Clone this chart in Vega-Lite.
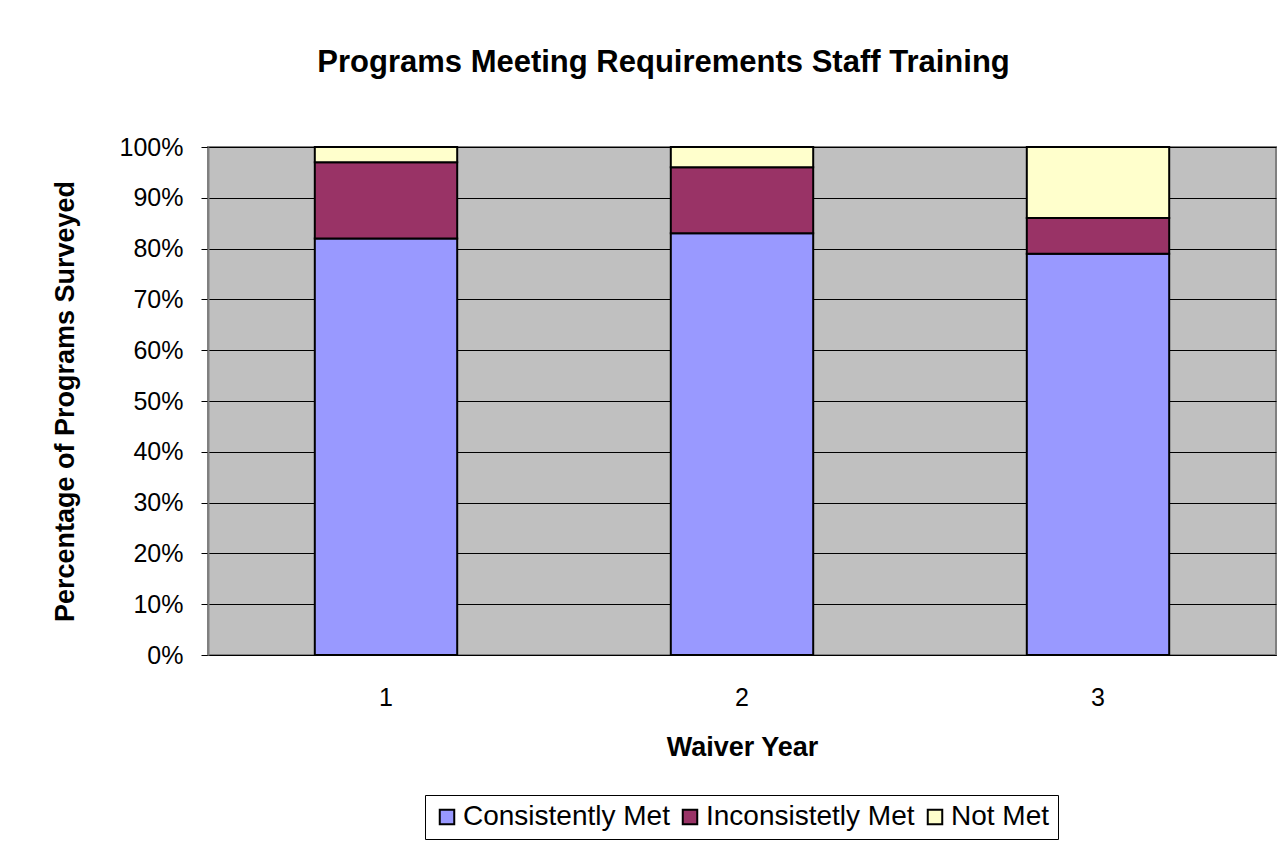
{
  "$schema": "https://vega.github.io/schema/vega-lite/v6.json",
  "width": 1068,
  "height": 508,
  "autosize": "none",
  "padding": {"left": 208, "top": 147, "right": 11, "bottom": 193},
  "background": "white",
  "config": {
    "font": "Liberation Sans",
    "view": {"fill": "#C0C0C0", "stroke": "#808080", "strokeWidth": 2}
  },
  "title": {
    "text": "Programs Meeting Requirements Staff Training",
    "fontSize": 31,
    "fontWeight": "bold",
    "font": "Liberation Sans",
    "color": "black",
    "anchor": "middle",
    "frame": "bounds",
    "offset": 56
  },
  "data": {
    "values": [
      {"year": "1", "category": "Consistently Met", "value": 0.82},
      {"year": "1", "category": "Inconsistetly Met", "value": 0.15},
      {"year": "1", "category": "Not Met", "value": 0.03},
      {"year": "2", "category": "Consistently Met", "value": 0.83},
      {"year": "2", "category": "Inconsistetly Met", "value": 0.13},
      {"year": "2", "category": "Not Met", "value": 0.04},
      {"year": "3", "category": "Consistently Met", "value": 0.79},
      {"year": "3", "category": "Inconsistetly Met", "value": 0.07},
      {"year": "3", "category": "Not Met", "value": 0.14}
    ]
  },
  "mark": {"type": "bar", "stroke": "black", "strokeWidth": 2},
  "encoding": {
    "x": {
      "field": "year",
      "type": "ordinal",
      "scale": {"paddingInner": 0.6, "paddingOuter": 0.3},
      "axis": {
        "title": "Waiver Year",
        "titleFontSize": 27,
        "titleFontWeight": "bold",
        "titleColor": "black",
        "titlePadding": 24,
        "labelAngle": 0,
        "labelFontSize": 25,
        "labelColor": "black",
        "labelFontWeight": "normal",
        "labelPadding": 30,
        "ticks": false,
        "domainColor": "black",
        "domainWidth": 1
      }
    },
    "y": {
      "field": "value",
      "type": "quantitative",
      "stack": "zero",
      "scale": {"domain": [0, 1], "nice": false},
      "axis": {
        "title": "Percentage of Programs Surveyed",
        "titleFontSize": 27,
        "titleFontWeight": "bold",
        "titleColor": "black",
        "titlePadding": 40,
        "format": ".0%",
        "values": [0, 0.1, 0.2, 0.3, 0.4, 0.5, 0.6, 0.7, 0.8, 0.9, 1],
        "labelFontSize": 25,
        "labelColor": "black",
        "labelPadding": 18,
        "tickSize": 7,
        "tickColor": "black",
        "domainColor": "#808080",
        "domainWidth": 2,
        "gridColor": "black",
        "gridWidth": 1,
        "gridOpacity": 1
      }
    },
    "color": {
      "field": "category",
      "type": "nominal",
      "scale": {
        "domain": ["Consistently Met", "Inconsistetly Met", "Not Met"],
        "range": ["#9999FF", "#993366", "#FFFFCC"]
      },
      "legend": {
        "title": null,
        "orient": "none",
        "direction": "horizontal",
        "legendX": 217,
        "legendY": 648,
        "strokeColor": "black",
        "padding": 8,
        "symbolType": "square",
        "symbolSize": 210,
        "symbolStrokeColor": "black",
        "symbolStrokeWidth": 2,
        "labelFontSize": 28,
        "labelColor": "black",
        "labelLimit": 0,
        "columnPadding": 6,
        "labelOffset": 2
      }
    },
    "order": {"field": "category", "sort": "ascending"}
  }
}
